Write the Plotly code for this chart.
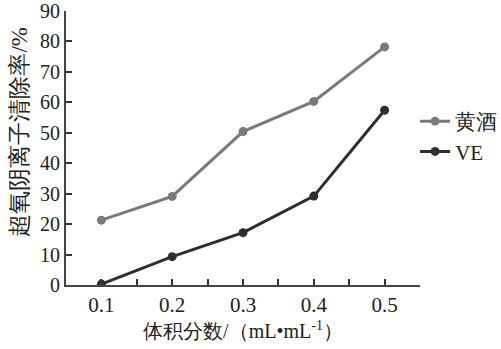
import plotly.graph_objects as go

x_vals = [0.1, 0.2, 0.3, 0.4, 0.5]
huangjiu = [21.3, 29.1, 50.4, 60.3, 78.2]
ve = [0.3, 9.3, 17.2, 29.2, 57.4]
names = ["黄酒", "VE"]
colors = ["#7a7a7a", "#2e2e2e"]

fig = go.Figure()
for name, ys, c in zip(names, [huangjiu, ve], colors):
    fig.add_trace(go.Scatter(x=x_vals, y=ys, name=name, mode="lines+markers",
                             line=dict(color=c, width=3),
                             marker=dict(color=c, size=9)))

serif = "'Times New Roman', 'Liberation Serif', serif"
fig.update_layout(
    width=501, height=349,
    margin=dict(l=66, r=81, t=11, b=64, autoexpand=False),
    paper_bgcolor="white", plot_bgcolor="white",
    font=dict(family=serif, size=20, color="#222"),
    showlegend=True,
    legend=dict(x=1.232, xanchor="right", y=0.542, yanchor="middle",
                font=dict(family=serif, size=21, color="#222"),
                bgcolor="rgba(0,0,0,0)", itemwidth=30, tracegroupgap=0),
    xaxis=dict(range=[0.05, 0.55], tickvals=[0.1, 0.2, 0.3, 0.4, 0.5],
               ticktext=["0.1", "0.2", "0.3", "0.4", "0.5"], automargin=False,
               ticks="inside", ticklen=6, tickcolor="#333", tickwidth=1.5,
               minor=dict(dtick=0.1, tick0=0.05, ticks="inside", ticklen=6, tickcolor="#333", tickwidth=1.5),
               showline=True, linecolor="#444", linewidth=2, showgrid=False, zeroline=False,
               tickfont=dict(family=serif, size=21),
               title=dict(text="体积分数/（mL•mL<sup>-1</sup>）", standoff=8,
                          font=dict(family=serif, size=20))),
    yaxis=dict(range=[0, 90], tickvals=[0, 10, 20, 30, 40, 50, 60, 70, 80, 90],
               ticklabeloverflow="allow", automargin=False,
               ticks="inside", ticklen=6, tickcolor="#333", tickwidth=1.5,
               showline=True, linecolor="#444", linewidth=2, showgrid=False, zeroline=False,
               tickfont=dict(family=serif, size=20)),
    annotations=[dict(text="超氧阴离子清除率/%", textangle=-90, xref="paper", yref="paper",
                      x=-0.13, y=0.56, xanchor="center", yanchor="middle", showarrow=False,
                      font=dict(family=serif, size=23, color="#222"))],
)
fig.write_html("out.html")
